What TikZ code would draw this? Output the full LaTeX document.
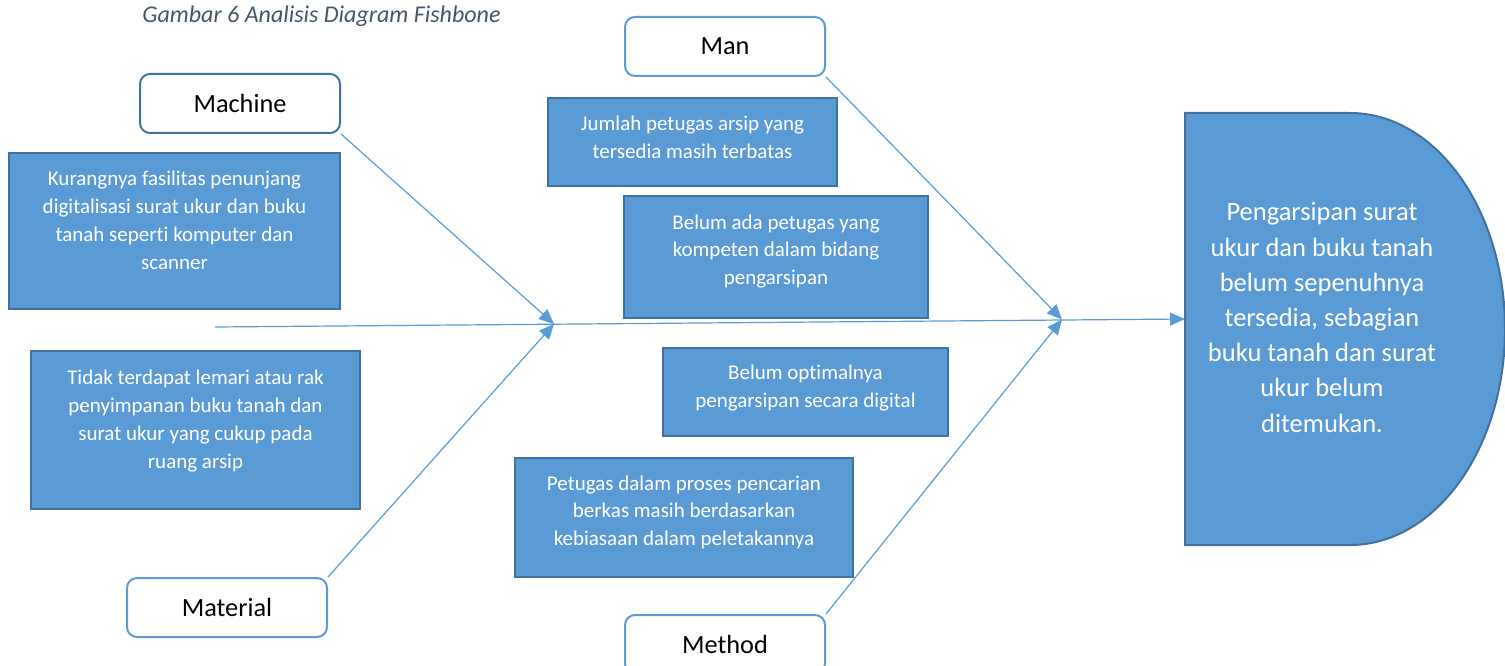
\documentclass[tikz,border=0pt]{standalone}
\usepackage{fontspec}
\setmainfont[Ligatures=CommonOff]{Carlito}
\usetikzlibrary{arrows.meta}
\definecolor{cfill}{HTML}{5B9BD5}
\definecolor{cedge}{HTML}{41719C}
\definecolor{ctitle}{HTML}{44546A}
\tikzset{
  cbox/.style={draw=cedge, fill=cfill, line width=2pt, inner sep=0pt},
  ctext/.style={text=white, align=center, inner sep=0pt, anchor=base, font=\fontsize{21}{27.7}\selectfont},
  catbox/.style={draw=cfill, fill=white, line width=2pt, rounded corners=10pt, minimum width=200pt, minimum height=59pt, inner sep=0pt, font=\fontsize{26.3}{30}\selectfont},
  bone/.style={draw=cfill, line width=1.2pt, -{Triangle[length=15pt,width=13pt]}},
}
\begin{document}
\begin{tikzpicture}[x=1pt,y=-1pt]
\useasboundingbox (0,0) rectangle (1505,666);
\clip (0,0) rectangle (1505,666);
% title
\node[text=ctitle, font=\fontsize{24}{28}\itshape, anchor=base, inner sep=0pt] (title) at (321.5,22.5) {Gambar 6 Analisis Diagram Fishbone};
% category boxes
\node[catbox, draw=cedge] (machine) at (240,103.5) {Machine};
\node[catbox] (man) at (725,46.5) {Man};
\node[catbox] (material) at (227,607.5) {Material};
\node[catbox] (method) at (725,644.5) {Method};
% cause boxes (text anchored at the baseline of its last line)
\node[cbox, minimum width=331pt, minimum height=156pt] (b1) at (174.5,231) {};
\node[ctext] (t1) at (174.5,269) {Kurangnya fasilitas penunjang\\digitalisasi surat ukur dan buku\\tanah seperti komputer dan\\scanner};
\node[cbox, minimum width=329pt, minimum height=158pt] (b2) at (195.5,430) {};
\node[ctext] (t2) at (195.5,468) {Tidak terdapat lemari atau rak\\penyimpanan buku tanah dan\\surat ukur yang cukup pada\\ruang arsip};
\node[cbox, minimum width=289pt, minimum height=88pt] (b3) at (692.5,142) {};
\node[ctext] (t3) at (692.5,158) {Jumlah petugas arsip yang\\tersedia masih terbatas};
\node[cbox, minimum width=304pt, minimum height=122pt] (b4) at (776,257) {};
\node[ctext] (t4) at (776,284.5) {Belum ada petugas yang\\kompeten dalam bidang\\pengarsipan};
\node[cbox, minimum width=285pt, minimum height=88pt] (b5) at (805.5,392) {};
\node[ctext] (t5) at (805.5,407.5) {Belum optimalnya\\pengarsipan secara digital};
\node[cbox, minimum width=338pt, minimum height=119pt] (b6) at (684,517.5) {};
\node[ctext] (t6) at (684,545.5) {Petugas dalam proses pencarian\\berkas masih berdasarkan\\kebiasaan dalam peletakannya};
% effect
\draw[cbox] (1185,113) -- (1350,113) arc(-90:90:155 and 216) -- (1185,545) -- cycle;
\node[ctext, font=\fontsize{26.5}{35.2}\selectfont] (effect) at (1322,432) {Pengarsipan surat\\ukur dan buku tanah\\belum sepenuhnya\\tersedia, sebagian\\buku tanah dan surat\\ukur belum\\ditemukan.};
% connectors
\coordinate (s0) at (215,327);
\coordinate (effw) at (1185,319);
\coordinate (j1) at (554,324);
\coordinate (j2) at (1062,319.5);
\draw[bone] (s0) -- (effw);
\draw[bone] (machine.south east) -- (j1);
\draw[bone] (material.north east) -- (j1);
\draw[bone] (man.south east) -- (j2);
\draw[bone] (method.north east) -- (j2);
\end{tikzpicture}
\end{document}
